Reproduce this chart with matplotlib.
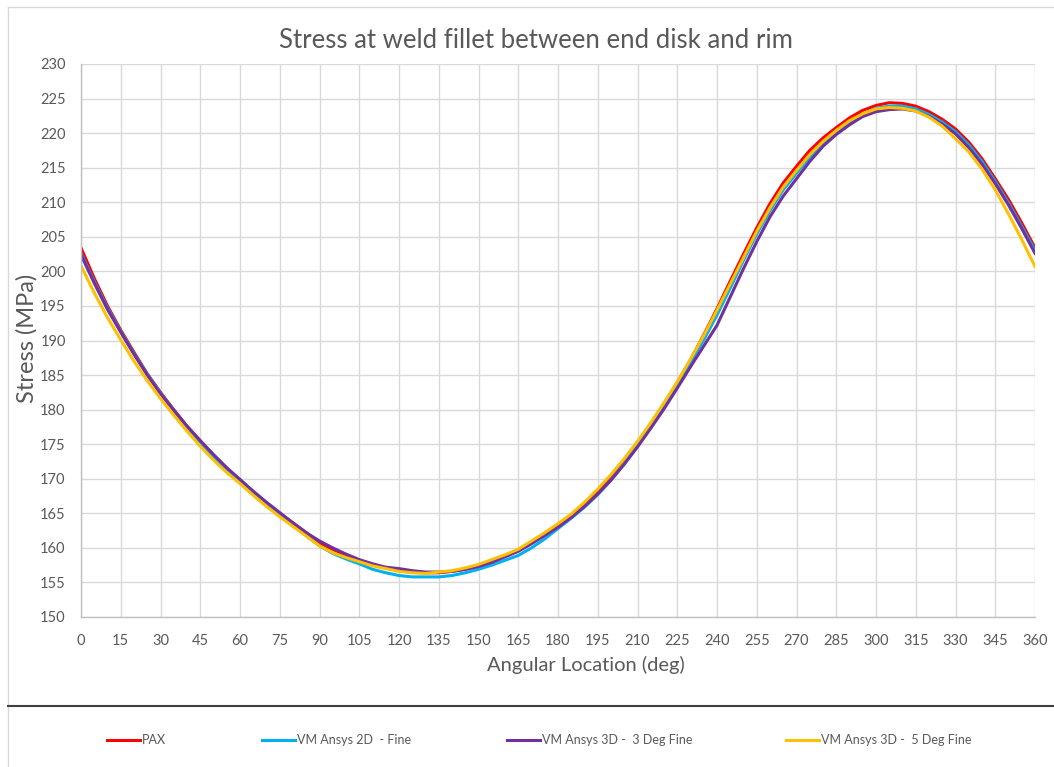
import matplotlib
matplotlib.use("Agg")
import matplotlib.pyplot as plt
from matplotlib.lines import Line2D
import numpy as np

plt.rcParams['font.family'] = ['Lato', 'DejaVu Sans']

angles = list(range(0, 361, 5))

pax = [203.4, 199.0, 195.0, 191.5, 188.3, 185.2, 182.5, 180.0, 177.6, 175.5,
       173.4, 171.5, 169.8, 168.1, 166.5, 165.0, 163.6, 162.2, 160.7, 159.8,
       158.9, 158.2, 157.6, 157.1, 156.8, 156.5, 156.4, 156.4, 156.6, 156.9,
       157.4, 158.0, 158.9, 159.7, 160.8, 161.9, 163.2, 164.6, 166.2, 168.2,
       170.2, 172.5, 175.1, 177.9, 180.8, 183.9, 187.2, 190.8, 194.6, 198.6,
       202.5, 206.3, 209.8, 212.8, 215.2, 217.5, 219.3, 220.8, 222.2, 223.3,
       224.0, 224.4, 224.3, 223.9, 223.1, 222.0, 220.6, 218.7, 216.3, 213.4,
       210.4, 207.0, 203.4]

vm_2d_fine = [202.6, 198.5, 194.7, 191.3, 188.1, 185.1, 182.4, 179.9, 177.5, 175.3,
              173.2, 171.3, 169.6, 167.9, 166.3, 164.8, 163.3, 161.8, 160.3, 159.2,
              158.4, 157.7, 156.9, 156.4, 156.0, 155.8, 155.8, 155.8, 156.0, 156.4,
              156.9, 157.5, 158.2, 158.9, 160.0, 161.3, 162.8, 164.3, 165.9, 167.7,
              169.8, 172.2, 174.9, 177.6, 180.5, 183.6, 186.8, 190.1, 193.7, 197.6,
              201.6, 205.4, 208.8, 211.8, 214.2, 216.5, 218.6, 220.2, 221.6, 222.7,
              223.6, 223.9, 223.9, 223.5, 222.7, 221.6, 220.2, 218.3, 215.9, 213.0,
              209.9, 206.5, 203.0]

vm_3d_3deg = [202.4, 198.3, 194.5, 191.2, 188.0, 185.0, 182.3, 179.9, 177.6, 175.5,
              173.5, 171.6, 169.9, 168.2, 166.6, 165.1, 163.6, 162.2, 161.0, 160.0,
              159.1, 158.3, 157.7, 157.2, 157.0, 156.7, 156.5, 156.5, 156.6, 156.9,
              157.3, 157.9, 158.7, 159.5, 160.6, 161.8, 163.0, 164.4, 166.0, 167.8,
              169.8, 172.1, 174.6, 177.3, 180.1, 183.1, 186.2, 189.2, 192.2, 196.3,
              200.4, 204.3, 207.9, 210.9, 213.4, 215.9, 218.1, 219.8, 221.2, 222.4,
              223.1, 223.4, 223.5, 223.2, 222.4, 221.3, 219.9, 217.9, 215.5, 212.7,
              209.6, 206.2, 202.6]

vm_3d_5deg = [200.8, 196.9, 193.3, 190.1, 187.0, 184.2, 181.6, 179.2, 176.9, 174.7,
              172.7, 170.9, 169.3, 167.6, 166.0, 164.5, 163.1, 161.7, 160.3, 159.3,
              158.6, 158.0, 157.4, 157.0, 156.6, 156.4, 156.3, 156.5, 156.7, 157.1,
              157.6, 158.3, 159.0, 159.8, 161.0, 162.2, 163.5, 164.9, 166.6, 168.5,
              170.6, 172.9, 175.4, 178.1, 181.0, 184.0, 187.3, 190.7, 194.4, 198.2,
              202.0, 205.8, 209.2, 212.2, 214.6, 216.9, 218.8, 220.4, 221.8, 222.8,
              223.5, 223.7, 223.6, 223.2, 222.3, 221.0, 219.2, 217.3, 214.8, 211.8,
              208.3, 204.6, 200.7]

series_labels = ["PAX", "VM Ansys 2D  - Fine", "VM Ansys 3D -  3 Deg Fine", "VM Ansys 3D -  5 Deg Fine"]
series_colors = ["#FF0000", "#00B0F0", "#7030A0", "#FFC000"]

x_ticks = list(range(0, 361, 15))
y_ticks = list(range(150, 231, 5))

W, H = 1054, 767
fig = plt.figure(figsize=(W / 100, H / 100), dpi=100)
fig.patch.set_facecolor("white")

ax = fig.add_axes([81 / W, 1 - 617 / H, (1035 - 81) / W, (617 - 64) / H])

lines = []
for vals, lab, col in zip([pax, vm_2d_fine, vm_3d_3deg, vm_3d_5deg], series_labels, series_colors):
    ln, = ax.plot(angles, vals, color=col, lw=2.2, label=lab, solid_joinstyle='round')
    lines.append(ln)

ax.set_xlim(0, 360)
ax.set_ylim(150, 230)
ax.set_xticks(x_ticks)
ax.set_yticks(y_ticks)
ax.grid(True, color="#D9D9D9", lw=1.0)
ax.set_axisbelow(True)
for s in ["top", "right"]:
    ax.spines[s].set_visible(False)
for s in ["left", "bottom"]:
    ax.spines[s].set_color("#BFBFBF")
    ax.spines[s].set_linewidth(1.0)
ax.tick_params(axis="both", length=0, labelsize=10.5, labelcolor="#595959")
ax.tick_params(axis="y", pad=11)
ax.tick_params(axis="x", pad=12)

fig.text(536 / W, 1 - 48 / H, "Stress at weld fillet between end disk and rim",
         ha="center", va="baseline", fontsize=18.5, color="#595959")
fig.text(586 / W, 1 - 665 / H, "Angular Location (deg)",
         ha="center", va="center", fontsize=14.5, color="#595959")
fig.text(27 / W, 1 - 338 / H, "Stress (MPa)", rotation=90,
         ha="center", va="center", fontsize=17, color="#595959")

# chart frame decorations
fig.add_artist(Line2D([8 / W, 8 / W], [0, 1 - 7 / H], transform=fig.transFigure, color="#D9D9D9", lw=1.0))
fig.add_artist(Line2D([8 / W, 1], [1 - 7 / H, 1 - 7 / H], transform=fig.transFigure, color="#D9D9D9", lw=1.0))
fig.add_artist(Line2D([8 / W, 1], [1 - 706 / H, 1 - 706 / H], transform=fig.transFigure, color="#404040", lw=1.5))

legend_x = [107, 262, 507, 786]
for ln, lx in zip(lines, legend_x):
    fig.legend([ln], [ln.get_label()], loc="center left", bbox_to_anchor=(lx / W, 1 - 740 / H),
               frameon=False, fontsize=9, labelcolor="#595959", handlelength=2.6,
               handletextpad=0.2, borderpad=0, borderaxespad=0)

fig.savefig("out.png", dpi=100, facecolor="white")
